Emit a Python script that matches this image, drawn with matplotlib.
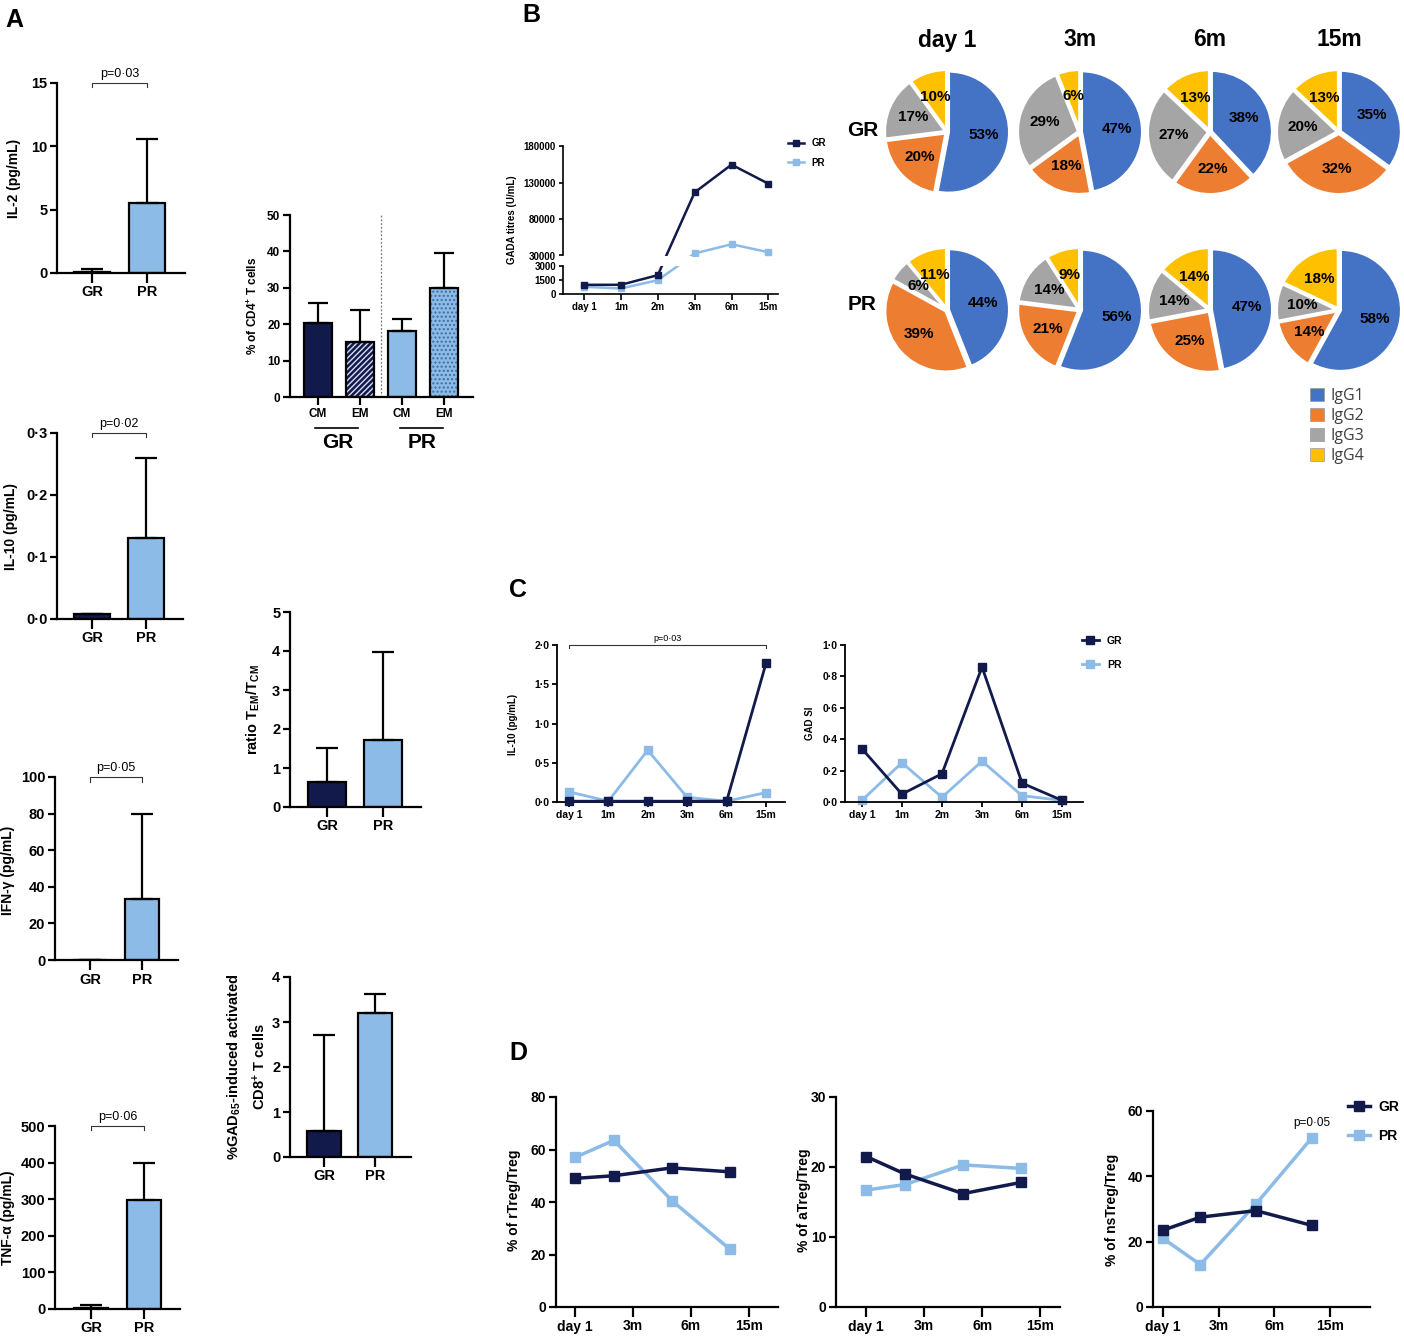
import numpy as np
import matplotlib
matplotlib.use('Agg')
import matplotlib.pyplot as plt
from matplotlib.ticker import FuncFormatter
from matplotlib.lines import Line2D
from matplotlib.patches import Patch

plt.rcParams['font.family'] = ['Liberation Sans', 'DejaVu Sans']
plt.rcParams['font.weight'] = 'bold'
plt.rcParams['mathtext.fontset'] = 'custom'
plt.rcParams['mathtext.rm'] = 'Liberation Sans:bold'
plt.rcParams['mathtext.it'] = 'Liberation Sans:bold'
plt.rcParams['mathtext.bf'] = 'Liberation Sans:bold'
plt.rcParams['mathtext.default'] = 'rm'
plt.rcParams['hatch.linewidth'] = 1.0

GR_COL = '#111a4a'
PR_COL = '#8bbbe6'

# ---- panel A data (mean, upper error) ----
groups = ['GR', 'PR']
il2_mean = [0.05, 5.5]
il2_err = [0.25, 5.1]
il10_mean = [0.008, 0.13]
il10_err = [0.0, 0.13]
ifn_mean = [0.0, 33.5]
ifn_err = [0.0, 46.5]
tnf_mean = [2.0, 298]
tnf_err = [8.0, 102]

cd4_labels = ['CM', 'EM', 'CM', 'EM']
cd4_mean = [20.2, 15.2, 18.0, 30.0]
cd4_err = [5.7, 8.8, 3.3, 9.5]

ratio_mean = [0.65, 1.72]
ratio_err = [0.87, 2.26]
gad65_mean = [0.57, 3.2]
gad65_err = [2.15, 0.42]

# ---- panel B data ----
time_b = ['day 1', '1m', '2m', '3m', '6m', '15m']
gada_gr = [950, 950, 2000, 116800, 155000, 128800]
gada_pr = [730, 550, 1450, 32800, 45500, 34500]

pie_times = ['day 1', '3m', '6m', '15m']
igg_labels = ['IgG1', 'IgG2', 'IgG3', 'IgG4']
igg_colors = ['#4472c4', '#ed7d31', '#a5a5a5', '#ffc000']
igg_gr = [[53, 20, 17, 10], [47, 18, 29, 6], [38, 22, 27, 13], [35, 32, 20, 13]]
igg_pr = [[44, 39, 6, 11], [56, 21, 14, 9], [47, 25, 14, 14], [58, 14, 10, 18]]

# ---- panel C data ----
il10c_gr = [0.01, 0.01, 0.01, 0.01, 0.01, 1.77]
il10c_pr = [0.13, 0.01, 0.66, 0.06, 0.01, 0.12]
gadsi_gr = [0.34, 0.05, 0.18, 0.86, 0.12, 0.01]
gadsi_pr = [0.01, 0.25, 0.03, 0.26, 0.04, 0.01]

# ---- panel D data ----
d_ticks = ['day 1', '3m', '6m', '15m']
d_x = [0, 0.67, 1.67, 2.67]
rtreg_gr = [49, 50, 53, 51.5]
rtreg_pr = [57, 63.5, 40.5, 22]
atreg_gr = [21.5, 19, 16.2, 17.8]
atreg_pr = [16.7, 17.5, 20.3, 19.8]
nstreg_gr = [23.5, 27.5, 29.5, 25]
nstreg_pr = [21, 13, 31.5, 51.7]

W, H = 1404, 1339
fig = plt.figure(figsize=(W / 100, H / 100), dpi=100)


def add_px(l, t, r, b):
    return fig.add_axes([l / W, 1 - b / H, (r - l) / W, (b - t) / H])


def fx(x, y):
    return (x / W, 1 - y / H)


def ftext(x, y, s, **kw):
    fig.text(x / W, 1 - y / H, s, **kw)


def fline(xs, ys, **kw):
    fig.add_artist(Line2D([x / W for x in xs], [1 - y / H for y in ys],
                          transform=fig.transFigure, **kw))


dotfmt = FuncFormatter(lambda v, p: ('%.1f' % v).replace('.', '\u00b7'))


def style(ax, lw=1.6, fs=10.5, tl=5):
    for s in ['top', 'right']:
        ax.spines[s].set_visible(False)
    for s in ['left', 'bottom']:
        ax.spines[s].set_linewidth(lw)
    ax.tick_params(width=lw, length=tl, labelsize=fs, pad=2)


def bar_panel(rect, means, errs, ylim, yticks, xlim, width, fs=10.5, fmt=None):
    ax = add_px(*rect)
    x = np.arange(len(means))
    ax.bar(x, means, width, color=[GR_COL, PR_COL], edgecolor='black', linewidth=1.6, zorder=2)
    ax.errorbar(x, means, yerr=[np.zeros(len(errs)), errs], fmt='none', ecolor='black',
                elinewidth=1.6, capsize=8, capthick=1.6, zorder=3)
    ax.set_ylim(*ylim)
    ax.set_xlim(*xlim)
    ax.set_yticks(yticks)
    ax.set_xticks(x)
    ax.set_xticklabels(groups)
    if fmt is not None:
        ax.yaxis.set_major_formatter(fmt)
    style(ax, fs=fs)
    ax.tick_params(axis='x', length=7)
    return ax


def bracket(ax, x0, x1, y, dy, txt, fs=9, ty=None):
    ax.plot([x0, x0, x1, x1], [y - dy, y, y, y - dy], color='#333333', lw=0.8, clip_on=False)
    ax.text((x0 + x1) / 2, y + (ty if ty else dy * 0.6), txt, ha='center', va='bottom',
            fontsize=fs, fontweight='normal', clip_on=False)


# ================= panel A =================
ax = bar_panel((57, 83, 185, 273), il2_mean, il2_err, (0, 15), [0, 5, 10, 15], (-0.64, 1.69), 0.66)
bracket(ax, 0, 1, 15.0, 0.35, 'p=0\u00b703')
ftext(14, 178, 'IL-2 (pg/mL)', rotation=90, ha='center', va='center', fontsize=10)

ax = bar_panel((57, 433, 183, 619), il10_mean, il10_err, (0, 0.3), [0, 0.1, 0.2, 0.3], (-0.65, 1.69), 0.66, fmt=dotfmt)
bracket(ax, 0, 1, 0.3, 0.007, 'p=0\u00b702')
ftext(11, 527, 'IL-10 (pg/mL)', rotation=90, ha='center', va='center', fontsize=10)

ax = bar_panel((55, 777, 178, 960), ifn_mean, ifn_err, (0, 100), [0, 20, 40, 60, 80, 100], (-0.67, 1.69), 0.66)
bracket(ax, 0, 1, 100, 2.5, 'p=0\u00b705')
ftext(8, 870, 'IFN-\u03b3 (pg/mL)', rotation=90, ha='center', va='center', fontsize=10)

ax = bar_panel((55, 1126, 180, 1309), tnf_mean, tnf_err, (0, 500), [0, 100, 200, 300, 400, 500], (-0.68, 1.68), 0.66)
bracket(ax, 0, 1, 500, 12, 'p=0\u00b706')
ftext(8, 1218, 'TNF-\u03b1 (pg/mL)', rotation=90, ha='center', va='center', fontsize=10)

# CD4 memory subsets
ax = add_px(290, 215, 473, 397)
xc = np.arange(4)
ax.bar(xc, cd4_mean, 0.67, color=[GR_COL, GR_COL, PR_COL, PR_COL], edgecolor='none', zorder=2)
ax.bar(xc[1], cd4_mean[1], 0.67, facecolor='none', edgecolor='#d8dcf0', hatch='//////', linewidth=0, zorder=2.2)
ax.bar(xc[3], cd4_mean[3], 0.67, facecolor='none', edgecolor='#3f6f9f', hatch='....', linewidth=0, zorder=2.2)
ax.bar(xc, cd4_mean, 0.67, fill=False, edgecolor='black', linewidth=1.6, zorder=2.5)
ax.errorbar(xc, cd4_mean, yerr=[np.zeros(4), cd4_err], fmt='none', ecolor='black',
            elinewidth=1.6, capsize=7, capthick=1.6, zorder=3)
ax.axvline(1.5, color='#777777', lw=0.9, ls=(0, (1.5, 1.5)), zorder=1)
ax.set_ylim(0, 50)
ax.set_xlim(-0.67, 3.69)
ax.set_yticks([0, 10, 20, 30, 40, 50])
ax.set_xticks(xc)
ax.set_xticklabels(cd4_labels)
style(ax, fs=8.5)
ax.tick_params(axis='x', length=6)
fline([315, 358], [428, 428], color='black', lw=1.2)
fline([400, 443], [428, 428], color='black', lw=1.2)
ftext(338, 443, 'GR', ha='center', va='center', fontsize=15)
ftext(422, 443, 'PR', ha='center', va='center', fontsize=15)
ftext(253, 306, '% of CD4$^{+}$ T cells', rotation=90, ha='center', va='center', fontsize=8.5)

ax = bar_panel((290, 612, 421, 807), ratio_mean, ratio_err, (0, 5), [0, 1, 2, 3, 4, 5], (-0.66, 1.68), 0.68)
ftext(253, 710, 'ratio T$_{EM}$/T$_{CM}$', rotation=90, ha='center', va='center', fontsize=10.5)

ax = bar_panel((290, 977, 411, 1157), gad65_mean, gad65_err, (0, 4), [0, 1, 2, 3, 4], (-0.67, 1.7), 0.66)
ftext(247, 1067, '%GAD$_{65}$-induced activated\nCD8$^{+}$ T cells', rotation=90, ha='center',
      va='center', fontsize=10.5, linespacing=1.5)

# ================= panel B =================
brk_v = [-1e6, 0, 3000, 30000, 180000, 1e7]
brk_p = [-1e6 * 27.5 / 3000, 0, 27.5, 37.5, 146.5, 146.5 + (1e7 - 180000) * 109 / 150000]


def fwd(v):
    return np.interp(v, brk_v, brk_p)


def inv(p):
    return np.interp(p, brk_p, brk_v)


xb = np.arange(len(time_b))
ax_top = add_px(563, 146.5, 778, 255.5)
ax_bot = add_px(563, 266, 778, 293.5)
for a in (ax_top, ax_bot):
    a.set_yscale('function', functions=(fwd, inv))
    a.plot(xb, gada_gr, '-s', color=GR_COL, lw=1.8, ms=4.5, zorder=3)
    a.plot(xb, gada_pr, '-s', color=PR_COL, lw=1.8, ms=4.5, zorder=2)
    a.set_xlim(-0.57, 5.26)
    style(a, lw=1.2, fs=7, tl=3)
ax_top.set_ylim(30000, 180000)
ax_top.set_yticks([30000, 80000, 130000, 180000])
ax_top.set_yticklabels(['30000', '80000', '130000', '180000'])
ax_top.spines['bottom'].set_visible(False)
ax_top.set_xticks([])
ax_bot.set_ylim(0, 3000)
ax_bot.set_yticks([0, 1500, 3000])
ax_bot.set_yticklabels(['0', '1500', '3000'])
ax_bot.set_xticks(xb)
ax_bot.set_xticklabels(time_b)
ax_bot.tick_params(axis='x', length=4)
ftext(512, 220, 'GADA titres (U/mL)', rotation=90, ha='center', va='center', fontsize=7)
hb = [Line2D([], [], color=GR_COL, marker='s', lw=1.8, ms=4.5),
      Line2D([], [], color=PR_COL, marker='s', lw=1.8, ms=4.5)]
fig.legend(hb, groups, loc='upper left', bbox_to_anchor=fx(788, 138), frameon=False,
           fontsize=7, handlelength=1.6, borderpad=0, borderaxespad=0, labelspacing=1.0,
           handletextpad=0.8)

# pies
pie_cx = [947, 1080, 1210, 1339]
pie_cy = [132, 310]
R = 61
for row, data in enumerate([igg_gr, igg_pr]):
    for j, vals in enumerate(data):
        cx, cy = pie_cx[j], pie_cy[row]
        pa = add_px(cx - 1.1 * R, cy - 1.1 * R, cx + 1.1 * R, cy + 1.1 * R)
        pa.pie(vals, colors=igg_colors, startangle=90, counterclock=False,
               labels=['%d%%' % v for v in vals], labeldistance=0.58,
               explode=[0.025] * 4,
               wedgeprops=dict(edgecolor='white', linewidth=2.2),
               textprops=dict(fontsize=11, fontweight='bold', ha='center', va='center'))
        pa.set_xlim(-1.1, 1.1)
        pa.set_ylim(-1.1, 1.1)
        pa.set_aspect('equal')
for j, t in enumerate(pie_times):
    ftext(pie_cx[j], 40, t, ha='center', va='center', fontsize=16.5)
ftext(863, 130, 'GR', ha='center', va='center', fontsize=15)
ftext(862, 305, 'PR', ha='center', va='center', fontsize=15)
hp = [Patch(facecolor=c, edgecolor='#999999', linewidth=0.5) for c in igg_colors]
lg = fig.legend(hp, igg_labels, loc='upper left', bbox_to_anchor=fx(1310, 388), frameon=False,
                handlelength=0.85, handleheight=0.85, borderpad=0, borderaxespad=0,
                labelspacing=0.25, handletextpad=0.45, prop=dict(family='Open Sans', size=11.5, weight='normal'))
for t in lg.get_texts():
    t.set_color('#404040')

# ================= panel C =================
xc6 = np.arange(len(time_b))
ax = add_px(557, 645, 785, 802)
ax.plot(xc6, il10c_gr, '-s', color=GR_COL, lw=2, ms=5.5, zorder=3, clip_on=False)
ax.plot(xc6, il10c_pr, '-s', color=PR_COL, lw=2, ms=5.5, zorder=2, clip_on=False)
ax.set_xlim(-0.3, 5.48)
ax.set_ylim(0, 2.0)
ax.set_yticks([0, 0.5, 1.0, 1.5, 2.0])
ax.yaxis.set_major_formatter(dotfmt)
ax.set_xticks(xc6)
ax.set_xticklabels(time_b)
style(ax, lw=1.3, fs=7.5, tl=3.5)
bracket(ax, 0, 5, 2.0, 0.04, 'p=0\u00b703', fs=6.5, ty=0.02)
ftext(513, 724, 'IL-10 (pg/mL)', rotation=90, ha='center', va='center', fontsize=7)

ax = add_px(845, 645, 1083, 802)
ax.plot(xc6, gadsi_gr, '-s', color=GR_COL, lw=2, ms=5.5, zorder=3, clip_on=False)
ax.plot(xc6, gadsi_pr, '-s', color=PR_COL, lw=2, ms=5.5, zorder=2, clip_on=False)
ax.set_xlim(-0.42, 5.52)
ax.set_ylim(0, 1.0)
ax.set_yticks([0, 0.2, 0.4, 0.6, 0.8, 1.0])
ax.yaxis.set_major_formatter(dotfmt)
ax.set_xticks(xc6)
ax.set_xticklabels(time_b)
style(ax, lw=1.3, fs=7.5, tl=3.5)
ftext(810, 723, 'GAD SI', rotation=90, ha='center', va='center', fontsize=7)
hc = [Line2D([], [], color=GR_COL, marker='s', lw=2, ms=5.5),
      Line2D([], [], color=PR_COL, marker='s', lw=2, ms=5.5)]
fig.legend(hc, groups, loc='upper left', bbox_to_anchor=fx(1082, 636), frameon=False,
           fontsize=7.5, handlelength=1.6, borderpad=0, borderaxespad=0, labelspacing=1.3,
           handletextpad=0.8)

# ================= panel D =================
d_panels = [
    ((556, 1097, 778, 1307), rtreg_gr, rtreg_pr, 80, [0, 20, 40, 60, 80], (-0.33, 3.5),
     '% of rTreg/Treg', (514, 1200)),
    ((836, 1097, 1060, 1307), atreg_gr, atreg_pr, 30, [0, 10, 20, 30], (-0.52, 3.34),
     '% of aTreg/Treg', (804, 1200)),
    ((1153, 1111, 1370, 1307), nstreg_gr, nstreg_pr, 60, [0, 20, 40, 60], (-0.18, 3.72),
     '% of nsTreg/Treg', (1112, 1210)),
]
for rect, g, p, ymax, yt, xl, lab, lp in d_panels:
    ax = add_px(*rect)
    ax.plot(d_x, g, '-s', color=GR_COL, lw=2.5, ms=7, zorder=3)
    ax.plot(d_x, p, '-s', color=PR_COL, lw=2.5, ms=7, zorder=2)
    ax.set_ylim(0, ymax)
    ax.set_yticks(yt)
    ax.set_xlim(*xl)
    ax.set_xticks(np.arange(len(d_ticks)))
    ax.set_xticklabels(d_ticks)
    style(ax, lw=1.6, fs=10, tl=5)
    ax.tick_params(axis='x', length=7)
    ftext(lp[0], lp[1], lab, rotation=90, ha='center', va='center', fontsize=10)
ax.text(d_x[3], 56.3, 'p=0\u00b705', ha='center', va='center', fontsize=8.5, fontweight='normal')
hd = [Line2D([], [], color=GR_COL, marker='s', lw=2.5, ms=7),
      Line2D([], [], color=PR_COL, marker='s', lw=2.5, ms=7)]
fig.legend(hd, groups, loc='upper left', bbox_to_anchor=fx(1348, 1100), frameon=False,
           fontsize=10, handlelength=1.6, borderpad=0, borderaxespad=0, labelspacing=1.1,
           handletextpad=0.6)

# panel letters
ftext(14, 20, 'A', ha='center', va='center', fontsize=18, fontweight='bold')
ftext(531, 15, 'B', ha='center', va='center', fontsize=18, fontweight='bold')
ftext(518, 590, 'C', ha='center', va='center', fontsize=18, fontweight='bold')
ftext(518, 1053, 'D', ha='center', va='center', fontsize=18, fontweight='bold')

fig.savefig('out.png', dpi=100)
